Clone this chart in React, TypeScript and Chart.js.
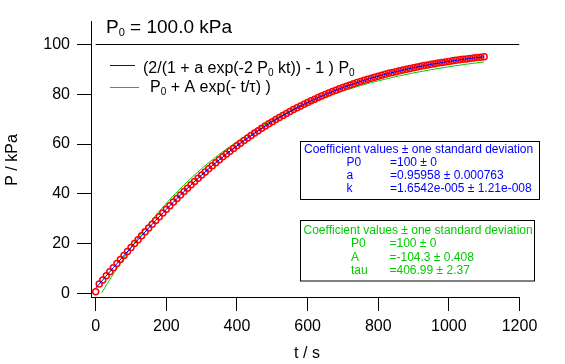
import { useEffect, useRef } from "react";
import { Chart, registerables } from "chart.js";

Chart.register(...registerables);

// measured data (red circles)
const timeS = [
  0, 10, 20, 30, 40, 50, 60, 70, 80, 90,
  100, 110, 120, 130, 140, 150, 160, 170, 180, 190,
  200, 210, 220, 230, 240, 250, 260, 270, 280, 290,
  300, 310, 320, 330, 340, 350, 360, 370, 380, 390,
  400, 410, 420, 430, 440, 450, 460, 470, 480, 490,
  500, 510, 520, 530, 540, 550, 560, 570, 580, 590,
  600, 610, 620, 630, 640, 650, 660, 670, 680, 690,
  700, 710, 720, 730, 740, 750, 760, 770, 780, 790,
  800, 810, 820, 830, 840, 850, 860, 870, 880, 890,
  900, 910, 920, 930, 940, 950, 960, 970, 980, 990,
  1000, 1010, 1020, 1030, 1040, 1050, 1060, 1070, 1080, 1090, 1100,
];
const pressureKPa = [
  0.6, 3.72, 5.37, 7.01, 8.66, 10.3, 11.93, 13.56, 15.18, 16.79,
  18.39, 19.99, 21.57, 23.14, 24.7, 26.25, 27.78, 29.3, 30.8, 32.29,
  33.77, 35.23, 36.67, 38.09, 39.49, 40.88, 42.25, 43.6, 44.93, 46.24,
  47.53, 48.8, 50.05, 51.28, 52.49, 53.68, 54.84, 55.99, 57.12, 58.22,
  59.3, 60.36, 61.4, 62.43, 63.42, 64.4, 65.36, 66.3, 67.21, 68.11,
  68.99, 69.85, 70.68, 71.5, 72.3, 73.08, 73.84, 74.59, 75.31, 76.02,
  76.71, 77.38, 78.03, 78.67, 79.29, 79.9, 80.49, 81.07, 81.63, 82.17,
  82.7, 83.22, 83.72, 84.21, 84.68, 85.14, 85.59, 86.03, 86.45, 86.86,
  87.26, 87.65, 88.03, 88.4, 88.75, 89.1, 89.43, 89.76, 90.08, 90.39,
  90.68, 90.97, 91.25, 91.53, 91.79, 92.05, 92.3, 92.54, 92.77, 93.0,
  93.22, 93.43, 93.64, 93.84, 94.03, 94.22, 94.41, 94.58, 94.75, 94.92, 95.08,
];

// logistic fit (blue)
const fitLogT = [0, 50, 100, 150, 200, 250, 300, 350, 400, 450, 500, 550, 600, 650, 700, 750, 800, 850, 900, 950, 1000, 1050, 1100];
const fitLogP = [2.06, 10.3, 18.39, 26.25, 33.77, 40.88, 47.53, 53.68, 59.3, 64.4, 68.99, 73.08, 76.71, 79.9, 82.7, 85.14, 87.26, 89.1, 90.68, 92.05, 93.22, 94.22, 95.08];

// exponential fit (green)
const fitExpT = [17, 50, 100, 150, 200, 250, 300, 350, 400, 450, 500, 550, 600, 650, 700, 750, 800, 850, 900, 950, 1000, 1050, 1100];
const fitExpP = [0.2, 7.76, 18.42, 27.85, 36.2, 43.57, 50.1, 55.86, 60.97, 65.48, 69.47, 73.0, 76.12, 78.88, 81.32, 83.48, 85.39, 87.08, 88.58, 89.9, 91.06, 92.1, 93.01];

// reference line at P0
const refT = [0, 1200];
const refP = [100, 100];

const xTicks = [0, 200, 400, 600, 800, 1000, 1200];
const yTicks = [0, 20, 40, 60, 80, 100];

const blueBoxLabels = ["P0", "a", "k"];
const blueBoxValues = ["=100 ± 0", "=0.95958 ± 0.000763", "=1.6542e-005 ± 1.21e-008"];
const greenBoxLabels = ["P0", "A", "tau"];
const greenBoxValues = ["=100 ± 0", "=-104.3 ± 0.408", "=406.99 ± 2.37"];

const FONT = '"Liberation Sans", Arial, sans-serif';
const BLUE = "#0000ff";
const GREEN = "#00cc00";
const RED = "#ff0000";

type Seg = { t: string; size: number; dy?: number };

function drawSegs(ctx: CanvasRenderingContext2D, x: number, y: number, segs: Seg[]) {
  let cx = x;
  for (const s of segs) {
    ctx.font = `${s.size}px ${FONT}`;
    ctx.fillText(s.t, cx, y + (s.dy || 0));
    cx += ctx.measureText(s.t).width;
  }
}

const overlayPlugin = {
  id: "overlay",
  afterDraw(chart: any) {
    const ctx: CanvasRenderingContext2D = chart.ctx;
    ctx.save();
    ctx.textBaseline = "alphabetic";
    ctx.textAlign = "left";
    ctx.fillStyle = "#000";

    // title
    drawSegs(ctx, 106, 33, [
      { t: "P", size: 19 },
      { t: "0", size: 11, dy: 3 },
      { t: " = 100.0 kPa", size: 19 },
    ]);

    // legend
    ctx.lineWidth = 1;
    ctx.strokeStyle = BLUE;
    ctx.beginPath();
    ctx.moveTo(110, 65.5);
    ctx.lineTo(135, 65.5);
    ctx.stroke();
    ctx.strokeStyle = GREEN;
    ctx.beginPath();
    ctx.moveTo(110, 87.5);
    ctx.lineTo(139, 87.5);
    ctx.stroke();

    drawSegs(ctx, 143, 72.5, [
      { t: "(2/(1 + a exp(-2 P", size: 16 },
      { t: "0", size: 10, dy: 3 },
      { t: " kt)) - 1 ) P", size: 16 },
      { t: "0", size: 10, dy: 3 },
    ]);
    drawSegs(ctx, 150, 91.5, [
      { t: "P", size: 16 },
      { t: "0", size: 10, dy: 3 },
      { t: " + A exp(- t/τ) )", size: 16 },
    ]);

    // axis titles
    ctx.font = `16px ${FONT}`;
    ctx.textAlign = "center";
    ctx.fillText("t / s", 307, 357.5);
    ctx.save();
    ctx.translate(16.5, 160);
    ctx.rotate(-Math.PI / 2);
    ctx.fillText("P / kPa", 0, 0);
    ctx.restore();
    ctx.textAlign = "left";

    // blue coefficient box
    ctx.fillStyle = "#fff";
    ctx.fillRect(300.5, 141.5, 239, 58);
    ctx.strokeStyle = "#000";
    ctx.lineWidth = 1;
    ctx.strokeRect(300.5, 141.5, 239, 58);
    ctx.fillStyle = BLUE;
    ctx.font = `12px ${FONT}`;
    ctx.fillText("Coefficient values ± one standard deviation", 304, 152.5);
    const blueBase = [165.5, 178.5, 191.5];
    blueBoxLabels.forEach((l, i) => {
      ctx.fillText(l, 346.5, blueBase[i]);
      ctx.fillText(blueBoxValues[i], 390, blueBase[i]);
    });

    // green coefficient box
    ctx.fillStyle = "#fff";
    ctx.fillRect(300.5, 220.5, 234, 60.5);
    ctx.strokeStyle = "#000";
    ctx.strokeRect(300.5, 220.5, 234, 60.5);
    ctx.fillStyle = GREEN;
    ctx.fillText("Coefficient values ± one standard deviation", 303.5, 233.5);
    const greenBase = [247, 260.7, 274.3];
    greenBoxLabels.forEach((l, i) => {
      ctx.fillText(l, 351, greenBase[i]);
      ctx.fillText(greenBoxValues[i], 389.5, greenBase[i]);
    });

    ctx.restore();
  },
};

export default function App() {
  const ref = useRef<HTMLCanvasElement | null>(null);

  useEffect(() => {
    if (!ref.current) return;
    const toXY = (xs: number[], ys: number[]) => xs.map((x, i) => ({ x, y: ys[i] }));
    const chart = new Chart(ref.current, {
      type: "line",
      data: {
        datasets: [
          {
            label: "logistic fit",
            data: toXY(fitLogT, fitLogP),
            borderColor: BLUE,
            borderWidth: 1,
            pointRadius: 0,
            cubicInterpolationMode: "monotone",
            fill: false,
            order: 0,
          },
          {
            label: "data",
            data: toXY(timeS, pressureKPa),
            showLine: false,
            pointStyle: "circle",
            pointRadius: 3,
            pointBorderWidth: 1.5,
            pointBorderColor: RED,
            pointBackgroundColor: "rgba(0,0,0,0)",
            borderColor: RED,
            order: 1,
          },
          {
            label: "exp fit",
            data: toXY(fitExpT, fitExpP),
            borderColor: GREEN,
            borderWidth: 1,
            pointRadius: 0,
            cubicInterpolationMode: "monotone",
            fill: false,
            order: 2,
          },
          {
            label: "P0",
            data: toXY(refT, refP),
            borderColor: "#000",
            borderWidth: 1,
            pointRadius: 0,
            fill: false,
            order: 3,
          },
        ],
      },
      options: {
        animation: false,
        responsive: false,
        devicePixelRatio: 1,
        layout: { padding: { top: 21, right: 45.5, left: 0, bottom: 0 } },
        plugins: { legend: { display: false }, tooltip: { enabled: false }, title: { display: false } },
        events: [],
        scales: {
          x: {
            type: "linear",
            min: -13.3,
            max: 1200,
            afterBuildTicks: (scale: any) => {
              scale.ticks = xTicks.map((v) => ({ value: v }));
            },
            afterFit: (scale: any) => {
              scale.height = 67;
            },
            ticks: {
              autoSkip: false,
              maxRotation: 0,
              padding: 6,
              color: "#000",
              font: { family: FONT, size: 16 },
              callback: (v: any) => String(v),
            },
            grid: { drawOnChartArea: false, drawTicks: true, tickLength: 14, color: "#000" },
            border: { display: true, color: "#000", width: 1 },
          },
          y: {
            type: "linear",
            min: -1.49,
            max: 109.45,
            afterBuildTicks: (scale: any) => {
              scale.ticks = yTicks.map((v) => ({ value: v }));
            },
            afterFit: (scale: any) => {
              scale.width = 91;
            },
            ticks: {
              autoSkip: false,
              padding: 7,
              color: "#000",
              font: { family: FONT, size: 16 },
              callback: (v: any) => String(v),
            },
            grid: { drawOnChartArea: false, drawTicks: true, tickLength: 14, color: "#000" },
            border: { display: true, color: "#000", width: 1 },
          },
        },
      },
      plugins: [overlayPlugin],
    });
    return () => chart.destroy();
  }, []);

  return (
    <div style={{ position: "absolute", left: 0, top: 0, width: 565, height: 364, background: "#fff" }}>
      <canvas ref={ref} width={565} height={364} />
    </div>
  );
}
